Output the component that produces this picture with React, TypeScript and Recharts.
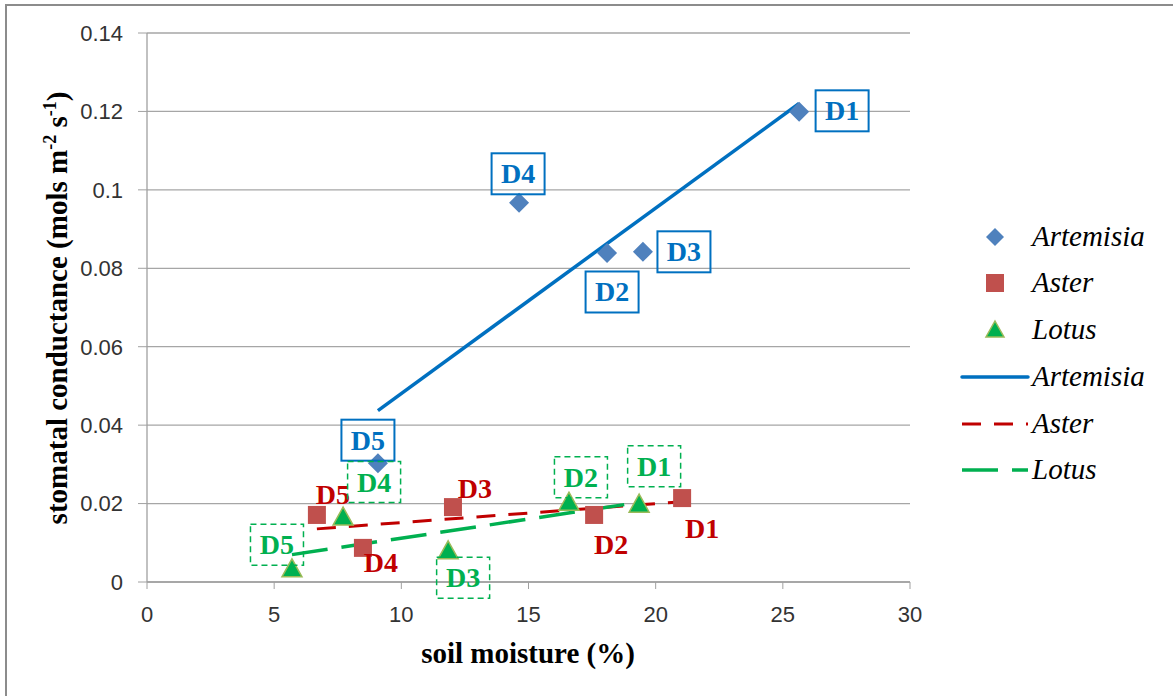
import React from "react";
import { ComposedChart, Scatter, XAxis, YAxis, CartesianGrid } from "recharts";

const pointLabels = ["D1", "D2", "D3", "D4", "D5"];

const artemisiaX = [25.64, 18.09, 19.5, 14.63, 9.08];
const artemisiaY = [0.1199, 0.0839, 0.0842, 0.0967, 0.0303];

const asterX = [21.04, 17.58, 12.03, 8.49, 6.68];
const asterY = [0.0214, 0.0171, 0.0191, 0.0087, 0.0171];

const lotusX = [19.35, 16.59, 11.84, 7.71, 5.7];
const lotusY = [0.0196, 0.0201, 0.0077, 0.0163, 0.0031];

const xTicks = [0, 5, 10, 15, 20, 25, 30];
const yTicks = [0, 0.02, 0.04, 0.06, 0.08, 0.1, 0.12, 0.14];

const toPoints = (xs: number[], ys: number[]) =>
  xs.map((x, i) => ({ x, y: ys[i], label: pointLabels[i] }));

const artemisia = toPoints(artemisiaX, artemisiaY);
const aster = toPoints(asterX, asterY);
const lotus = toPoints(lotusX, lotusY);

// where each data label sits relative to its marker (px)
const artemisiaLabelPos = [[43, -1], [5, 39], [41, 0], [-1, -29], [-10, -23]];
const asterLabelPos = [[20, 30], [17, 30], [22, -19], [18, 15], [16, -20]];
const lotusLabelPos = [[15, -39], [12, -26], [15, 26], [31, -36], [-15, -25]];

const BLUE = "#0070C0";
const RED = "#C00000";
const GREEN = "#00B050";
const SERIF = "'Liberation Serif', 'Times New Roman', serif";
const SANS = "'Liberation Sans', Arial, sans-serif";

const LabelText = ({ x, y, text, color }: any) => (
  <text
    x={x}
    y={y + 9.5}
    textAnchor="middle"
    fontFamily={SERIF}
    fontWeight="bold"
    fontSize={28}
    fill={color}
  >
    {text}
  </text>
);

const labelIdx = (p: any) => pointLabels.indexOf(p?.label);

const DiamondShape = (props: any) => {
  const { cx, cy, payload } = props;
  const [dx, dy] = artemisiaLabelPos[labelIdx(payload)] || [0, 0];
  const lx = cx + dx;
  const ly = cy + dy;
  return (
    <g>
      <polygon
        points={`${cx},${cy - 10} ${cx + 10},${cy} ${cx},${cy + 10} ${cx - 10},${cy}`}
        fill="#4F81BD"
      />
      <rect x={lx - 26.5} y={ly - 20.5} width={53} height={41} fill="none" stroke={BLUE} strokeWidth={2} />
      <LabelText x={lx} y={ly} text={payload.label} color={BLUE} />
    </g>
  );
};

const SquareShape = (props: any) => {
  const { cx, cy, payload } = props;
  const [dx, dy] = asterLabelPos[labelIdx(payload)] || [0, 0];
  return (
    <g>
      <rect x={cx - 9} y={cy - 9} width={18} height={18} fill="#C0504D" />
      <LabelText x={cx + dx} y={cy + dy} text={payload.label} color={RED} />
    </g>
  );
};

const TriangleShape = (props: any) => {
  const { cx, cy, payload } = props;
  const [dx, dy] = lotusLabelPos[labelIdx(payload)] || [0, 0];
  const lx = cx + dx;
  const ly = cy + dy;
  return (
    <g>
      <polygon
        points={`${cx},${cy - 11} ${cx + 10},${cy + 7} ${cx - 10},${cy + 7}`}
        fill={GREEN}
        stroke="#9BBB59"
        strokeWidth={1.5}
      />
      <rect
        x={lx - 26.5}
        y={ly - 20.5}
        width={53}
        height={41}
        fill="none"
        stroke={GREEN}
        strokeWidth={1.5}
        strokeDasharray="6 4"
      />
      <LabelText x={lx} y={ly} text={payload.label} color={GREEN} />
    </g>
  );
};

const NoShape = () => <g />;

const YTitle = () => (
  <text
    x={67}
    y={308}
    transform="rotate(-90 67 308)"
    textAnchor="middle"
    fontFamily={SERIF}
    fontWeight="bold"
    fontSize={29}
    fill="#000"
  >
    stomatal conductance (mols m
    <tspan dy={-11} fontSize={18}>-2</tspan>
    <tspan dy={11}> s</tspan>
    <tspan dy={-11} fontSize={18}>-1</tspan>
    <tspan dy={11}>)</tspan>
  </text>
);

const XTitle = () => (
  <text
    x={528}
    y={663}
    textAnchor="middle"
    fontFamily={SERIF}
    fontWeight="bold"
    fontSize={29}
    fill="#000"
  >
    soil moisture (%)
  </text>
);

const legendText = (y: number, label: string) => (
  <text x={1032} y={y + 9} fontFamily={SERIF} fontStyle="italic" fontSize={29} fill="#000">
    {label}
  </text>
);

const ChartLegend = () => (
  <svg width={1173} height={696} style={{ position: "absolute", left: 0, top: 0, pointerEvents: "none" }}>
    <polygon points="995,228 1004,237 995,246 986,237" fill="#4F81BD" />
    {legendText(237, "Artemisia")}
    <rect x={986} y={274} width={18} height={18} fill="#C0504D" />
    {legendText(283, "Aster")}
    <polygon points="995,321 1004,337 986,337" fill={GREEN} stroke="#9BBB59" strokeWidth={1.5} />
    {legendText(330, "Lotus")}
    <line x1={962} y1={377} x2={1028} y2={377} stroke={BLUE} strokeWidth={3.5} strokeLinecap="round" />
    {legendText(377, "Artemisia")}
    <line x1={962} y1={424} x2={1028} y2={424} stroke={RED} strokeWidth={3} strokeDasharray="19 13" />
    {legendText(424, "Aster")}
    <line x1={962} y1={470} x2={1028} y2={470} stroke={GREEN} strokeWidth={3.5} strokeDasharray="36 14" />
    {legendText(470, "Lotus")}
  </svg>
);

export default function App() {
  return (
    <div style={{ position: "absolute", left: 0, top: 0, width: 1173, height: 696, overflow: "hidden", background: "#fff" }}>
      <div
        style={{
          position: "absolute",
          left: 5,
          top: 4,
          width: 1300,
          height: 800,
          borderTop: "2px solid #8c8c8c",
          borderLeft: "2px solid #8c8c8c",
        }}
      />
      <ComposedChart width={1173} height={696} margin={{ top: 33, right: 263, bottom: 0, left: 0 }}>
        <CartesianGrid vertical={false} stroke="#a6a6a6" strokeWidth={1.3} />
        <XAxis
          type="number"
          dataKey="x"
          domain={[0, 30]}
          ticks={xTicks}
          height={114}
          axisLine={{ stroke: "#a0a0a0", strokeWidth: 1.3 }}
          tickLine={{ stroke: "#a0a0a0" }}
          tickSize={7}
          tickMargin={17}
          tick={{ fill: "#333", fontSize: 22, fontFamily: SANS }}
          label={() => <XTitle />}
        />
        <YAxis
          type="number"
          dataKey="y"
          domain={[0, 0.14]}
          ticks={yTicks}
          width={147}
          axisLine={{ stroke: "#a0a0a0", strokeWidth: 1.3 }}
          tickLine={{ stroke: "#a0a0a0" }}
          tickSize={9}
          tickMargin={15}
          tick={{ fill: "#333", fontSize: 22, fontFamily: SANS }}
          label={() => <YTitle />}
        />
        <Scatter data={artemisia} shape={NoShape} line={{ stroke: BLUE, strokeWidth: 3.5 }} lineType="fitting" isAnimationActive={false} />
        <Scatter data={aster} shape={NoShape} line={{ stroke: RED, strokeWidth: 3, strokeDasharray: "19 13" }} lineType="fitting" isAnimationActive={false} />
        <Scatter data={lotus} shape={NoShape} line={{ stroke: GREEN, strokeWidth: 3.5, strokeDasharray: "36 14" }} lineType="fitting" isAnimationActive={false} />
        <Scatter data={artemisia} shape={DiamondShape} isAnimationActive={false} />
        <Scatter data={aster} shape={SquareShape} isAnimationActive={false} />
        <Scatter data={lotus} shape={TriangleShape} isAnimationActive={false} />
      </ComposedChart>
      <ChartLegend />
    </div>
  );
}
